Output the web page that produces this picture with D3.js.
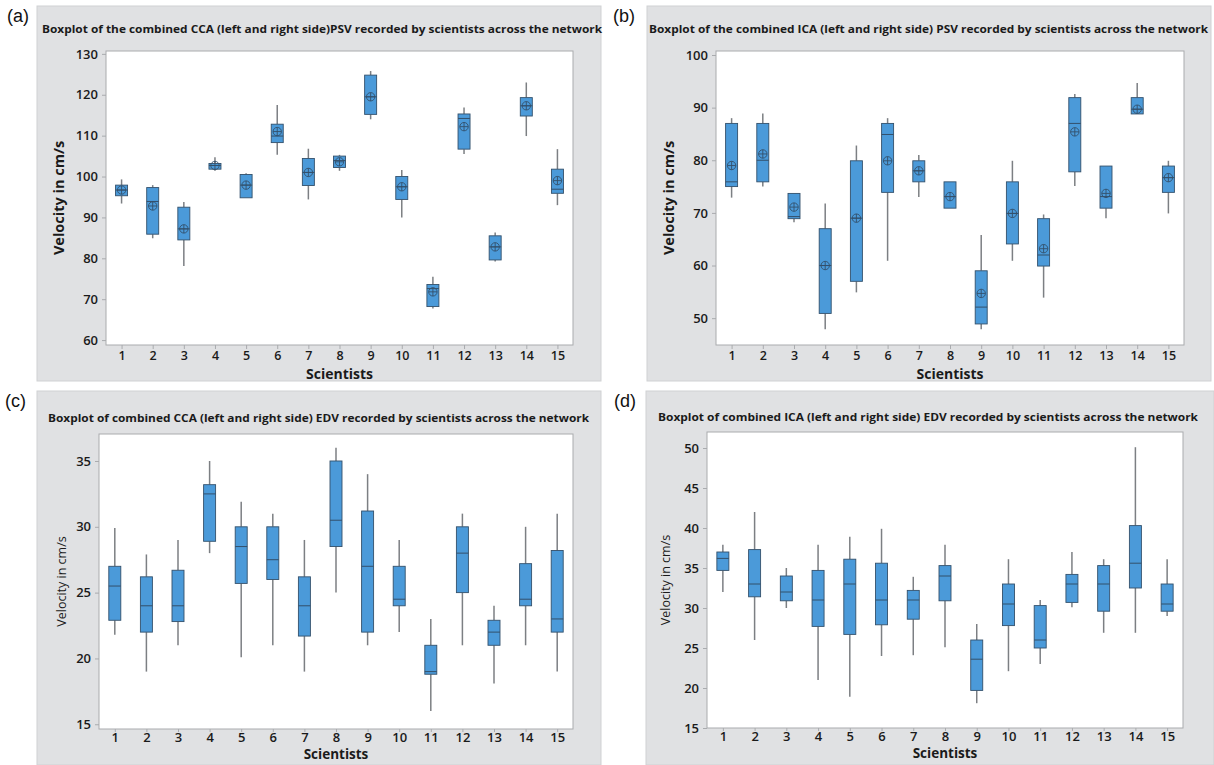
<!DOCTYPE html>
<html>
<head>
<meta charset="utf-8">
<script src="https://cdn.jsdelivr.net/npm/d3@7"></script>
<style>
  body { margin: 0; background: #ffffff; }
  svg { display: block; }
</style>
</head>
<body>
<svg id="chart" width="1214" height="765"></svg>
<script>
// ---------------- DATA ----------------
const scientists = ["1","2","3","4","5","6","7","8","9","10","11","12","13","14","15"];

// (a) CCA PSV
const ccaPsvLow  = [93.4, 84.9, 78.1, 101.4, 94.8, 105.3, 94.4, 101.4, 114.0, 90.0, 67.7, 105.5, 79.2, 109.9, 93.0];
const ccaPsvQ1   = [95.3, 85.9, 84.5, 101.8, 94.8, 108.3, 97.8, 102.2, 115.2, 94.4, 68.2, 106.7, 79.6, 114.8, 95.9];
const ccaPsvMed  = [96.7, 93.9, 87.2, 102.7, 97.9, 109.9, 101.0, 103.9, 119.5, 97.5, 72.6, 114.2, 82.8, 117.3, 96.9];
const ccaPsvQ3   = [97.9, 97.3, 92.5, 103.2, 100.5, 112.8, 104.4, 105.0, 124.8, 100.0, 73.6, 115.3, 85.5, 119.3, 101.8];
const ccaPsvHigh = [99.3, 97.9, 93.8, 104.7, 100.8, 117.5, 106.8, 105.3, 125.8, 101.6, 75.5, 116.9, 86.3, 123.0, 106.7];
const ccaPsvMean = [96.7, 92.8, 87.2, 102.7, 97.9, 111.0, 101.0, 103.6, 119.5, 97.5, 71.8, 112.2, 82.8, 117.3, 99.0];
const ccaPsvTicks = [60, 70, 80, 90, 100, 110, 120, 130];

// (b) ICA PSV
const icaPsvLow  = [72.9, 75.0, 68.2, 47.9, 54.9, 60.9, 73.0, 70.9, 47.9, 60.9, 53.9, 75.1, 69.0, 88.8, 69.9];
const icaPsvQ1   = [75.0, 75.9, 68.9, 50.9, 57.0, 73.9, 75.9, 70.9, 48.9, 64.1, 59.9, 77.8, 70.9, 88.8, 73.9];
const icaPsvMed  = [75.9, 80.0, 69.3, 60.0, 69.0, 84.9, 78.0, 73.1, 52.1, 69.9, 62.0, 87.0, 73.1, 89.7, 76.7];
const icaPsvQ3   = [87.0, 87.0, 73.7, 67.0, 79.9, 87.0, 79.9, 75.9, 59.0, 75.9, 68.9, 91.9, 78.9, 91.9, 78.9];
const icaPsvHigh = [88.0, 88.9, 73.7, 71.8, 82.8, 88.0, 81.0, 75.9, 65.8, 79.9, 69.7, 92.6, 78.9, 94.7, 79.9];
const icaPsvMean = [79.0, 81.2, 71.1, 60.0, 69.0, 79.9, 78.0, 73.1, 54.7, 69.9, 63.2, 85.4, 73.7, 89.7, 76.7];
const icaPsvTicks = [50, 60, 70, 80, 90, 100];

// (c) CCA EDV
const ccaEdvLow  = [21.8, 19.0, 21.0, 28.0, 20.1, 21.0, 19.0, 25.0, 21.0, 22.0, 16.0, 21.0, 18.1, 21.0, 19.0];
const ccaEdvQ1   = [22.9, 22.0, 22.8, 28.9, 25.7, 26.0, 21.7, 28.5, 22.0, 24.0, 18.8, 25.0, 21.0, 24.0, 22.0];
const ccaEdvMed  = [25.5, 24.0, 24.0, 32.5, 28.5, 27.5, 24.0, 30.5, 27.0, 24.5, 19.0, 28.0, 22.0, 24.5, 23.0];
const ccaEdvQ3   = [27.0, 26.2, 26.7, 33.2, 30.0, 30.0, 26.2, 35.0, 31.2, 27.0, 21.0, 30.0, 22.9, 27.2, 28.2];
const ccaEdvHigh = [29.9, 27.9, 29.0, 35.0, 31.9, 31.0, 29.0, 36.0, 34.0, 29.0, 23.0, 31.0, 24.0, 30.0, 31.0];
const ccaEdvTicks = [15, 20, 25, 30, 35];

// (d) ICA EDV
const icaEdvLow  = [32.0, 26.0, 30.0, 21.0, 18.9, 24.0, 24.1, 25.1, 18.1, 22.1, 23.0, 30.1, 26.9, 26.9, 29.0];
const icaEdvQ1   = [34.7, 31.4, 30.9, 27.7, 26.7, 27.9, 28.6, 30.9, 19.7, 27.8, 25.0, 30.7, 29.6, 32.5, 29.6];
const icaEdvMed  = [36.2, 33.0, 32.0, 31.0, 33.0, 31.0, 31.0, 34.0, 23.6, 30.5, 26.0, 33.0, 33.0, 35.6, 30.5];
const icaEdvQ3   = [37.0, 37.3, 34.0, 34.7, 36.1, 35.6, 32.2, 35.3, 26.0, 33.0, 30.3, 34.2, 35.3, 40.3, 33.0];
const icaEdvHigh = [37.9, 42.0, 35.0, 37.9, 38.9, 39.9, 33.9, 37.9, 28.0, 36.1, 31.0, 37.0, 36.1, 50.1, 36.1];
const icaEdvTicks = [15, 20, 25, 30, 35, 40, 45, 50];

const titles = [
  "Boxplot of the combined CCA (left and right side)PSV recorded by scientists across the network",
  "Boxplot of the combined ICA (left and right side) PSV recorded by scientists across the network",
  "Boxplot of combined CCA (left and right side) EDV recorded by scientists across the network",
  "Boxplot of combined ICA (left and right side) EDV recorded by scientists across the network"
];
const panelLetters = ["(a)", "(b)", "(c)", "(d)"];
const yAxisTitle = "Velocity in cm/s";
const xAxisTitle = "Scientists";

// ---------------- LAYOUT ----------------
const panels = [
  { letter: panelLetters[0], title: titles[0], low: ccaPsvLow, q1: ccaPsvQ1, med: ccaPsvMed, q3: ccaPsvQ3, high: ccaPsvHigh, mean: ccaPsvMean, ticks: ccaPsvTicks, domain: [58.8, 130.7],
    outer: [37, 6, 601, 381], plot: [106, 51, 573, 345], letterPos: [7, 22], titleX: 42, titleY: 33, titleW: 560,
    yTitleX: 60, xTitleY: 378.5, bigLabels: true },
  { letter: panelLetters[1], title: titles[1], low: icaPsvLow, q1: icaPsvQ1, med: icaPsvMed, q3: icaPsvQ3, high: icaPsvHigh, mean: icaPsvMean, ticks: icaPsvTicks, domain: [44.9, 100.76],
    outer: [647, 6, 1211, 381], plot: [716, 51, 1184, 345], letterPos: [613, 22], titleX: 649, titleY: 33, titleW: 559,
    yTitleX: 670, xTitleY: 378.5, bigLabels: true },
  { letter: panelLetters[2], title: titles[2], low: ccaEdvLow, q1: ccaEdvQ1, med: ccaEdvMed, q3: ccaEdvQ3, high: ccaEdvHigh, mean: null, ticks: ccaEdvTicks, domain: [14.64, 37.05],
    outer: [37, 391, 601, 765], plot: [99, 434, 573, 729], letterPos: [5, 407], titleX: 48, titleY: 422, titleW: 541,
    yTitleX: 63, xTitleY: 759, bigLabels: false },
  { letter: panelLetters[3], title: titles[3], low: icaEdvLow, q1: icaEdvQ1, med: icaEdvMed, q3: icaEdvQ3, high: icaEdvHigh, mean: null, ticks: icaEdvTicks, domain: [15, 52.0],
    outer: [646, 391, 1214, 765], plot: [707, 432, 1183, 728], letterPos: [614, 407], titleX: 658, titleY: 421, titleW: 540,
    yTitleX: 667, xTitleY: 758, bigLabels: false }
];

const panelBg = "#e0e1e3";
const borderCol = "#a9abae";
const boxFill = "#4b9ad9";
const boxStroke = "#33506b";
const whiskerCol = "#7c7f83";
const textCol = "#1a1a1a";
const fontMain = "'Open Sans', 'Noto Sans', sans-serif";

const svg = d3.select("#chart");
svg.append("rect").attr("width", 1214).attr("height", 765).attr("fill", "#ffffff");

panels.forEach(p => {
  const g = svg.append("g");
  const [ox0, oy0, ox1, oy1] = p.outer;
  const [px0, py0, px1, py1] = p.plot;

  g.append("rect").attr("x", ox0).attr("y", oy0).attr("width", ox1 - ox0).attr("height", oy1 - oy0)
    .attr("fill", panelBg).attr("stroke", "#d0d1d3").attr("stroke-width", 1);

  g.append("rect").attr("x", px0).attr("y", py0).attr("width", px1 - px0).attr("height", py1 - py0)
    .attr("fill", "#ffffff").attr("stroke", borderCol).attr("stroke-width", 1);

  // letter
  g.append("text").attr("x", p.letterPos[0]).attr("y", p.letterPos[1])
    .attr("font-family", "'Liberation Sans', Arial, sans-serif").attr("font-size", 18)
    .attr("fill", "#111").text(p.letter);

  // title
  g.append("text").attr("x", p.titleX).attr("y", p.titleY)
    .attr("font-family", fontMain).attr("font-size", 10.8).attr("font-weight", 700)
    .attr("fill", textCol).attr("textLength", p.titleW).attr("lengthAdjust", "spacingAndGlyphs")
    .text(p.title);

  const x = d3.scalePoint().domain(scientists).range([px0, px1]).padding(0.5);
  const y = d3.scaleLinear().domain(p.domain).range([py1, py0]);

  // y axis
  const yAxis = g.append("g").attr("transform", `translate(${px0},0)`)
    .call(d3.axisLeft(y).tickValues(p.ticks).tickSize(4).tickPadding(4).tickFormat(d3.format("d")));
  yAxis.select(".domain").remove();
  yAxis.selectAll("line").attr("stroke", borderCol);
  yAxis.selectAll("text").attr("font-family", fontMain).attr("font-size", 13).attr("font-weight", 600).attr("fill", textCol);

  // x axis
  const xAxis = g.append("g").attr("transform", `translate(0,${py1})`)
    .call(d3.axisBottom(x).tickSize(p.bigLabels ? 4 : 3).tickPadding(p.bigLabels ? 2 : 1));
  xAxis.select(".domain").remove();
  xAxis.selectAll("line").attr("stroke", borderCol);
  xAxis.selectAll("text").attr("font-family", fontMain).attr("font-size", p.bigLabels ? 12.5 : 13).attr("font-weight", 600).attr("fill", textCol);

  // axis titles
  g.append("text").attr("transform", `translate(${p.yTitleX},${(py0 + py1) / 2}) rotate(-90)`)
    .attr("text-anchor", "middle").attr("dominant-baseline", "middle")
    .attr("font-family", fontMain).attr("font-size", p.bigLabels ? 14.5 : 12.5)
    .attr("font-weight", p.bigLabels ? 700 : 400).attr("fill", textCol).text(yAxisTitle);

  g.append("text").attr("x", (px0 + px1) / 2).attr("y", p.xTitleY)
    .attr("text-anchor", "middle")
    .attr("font-family", fontMain).attr("font-size", p.bigLabels ? 14 : 13.5).attr("font-weight", 700)
    .attr("fill", textCol).text(xAxisTitle);

  // boxes
  const bw = 12;
  const rows = scientists.map((s, i) => ({
    s, low: p.low[i], q1: p.q1[i], med: p.med[i], q3: p.q3[i], high: p.high[i],
    mean: p.mean ? p.mean[i] : null
  }));
  const bg = g.append("g");
  rows.forEach(r => {
    const cx = x(r.s);
    bg.append("line").attr("x1", cx).attr("x2", cx).attr("y1", y(r.high)).attr("y2", y(r.q3))
      .attr("stroke", whiskerCol).attr("stroke-width", 1.5);
    bg.append("line").attr("x1", cx).attr("x2", cx).attr("y1", y(r.q1)).attr("y2", y(r.low))
      .attr("stroke", whiskerCol).attr("stroke-width", 1.5);
    bg.append("rect").attr("x", cx - bw / 2).attr("y", y(r.q3)).attr("width", bw)
      .attr("height", Math.max(1, y(r.q1) - y(r.q3)))
      .attr("fill", boxFill).attr("stroke", boxStroke).attr("stroke-width", 0.9);
    bg.append("line").attr("x1", cx - bw / 2).attr("x2", cx + bw / 2).attr("y1", y(r.med)).attr("y2", y(r.med))
      .attr("stroke", boxStroke).attr("stroke-width", 1);
    if (r.mean !== null) {
      const my = y(r.mean);
      bg.append("circle").attr("cx", cx).attr("cy", my).attr("r", 4.2)
        .attr("fill", "none").attr("stroke", boxStroke).attr("stroke-width", 0.9);
      bg.append("line").attr("x1", cx - 4.2).attr("x2", cx + 4.2).attr("y1", my).attr("y2", my)
        .attr("stroke", boxStroke).attr("stroke-width", 0.9);
      bg.append("line").attr("x1", cx).attr("x2", cx).attr("y1", my - 4.2).attr("y2", my + 4.2)
        .attr("stroke", boxStroke).attr("stroke-width", 0.9);
    }
  });
});
</script>
</body>
</html>
